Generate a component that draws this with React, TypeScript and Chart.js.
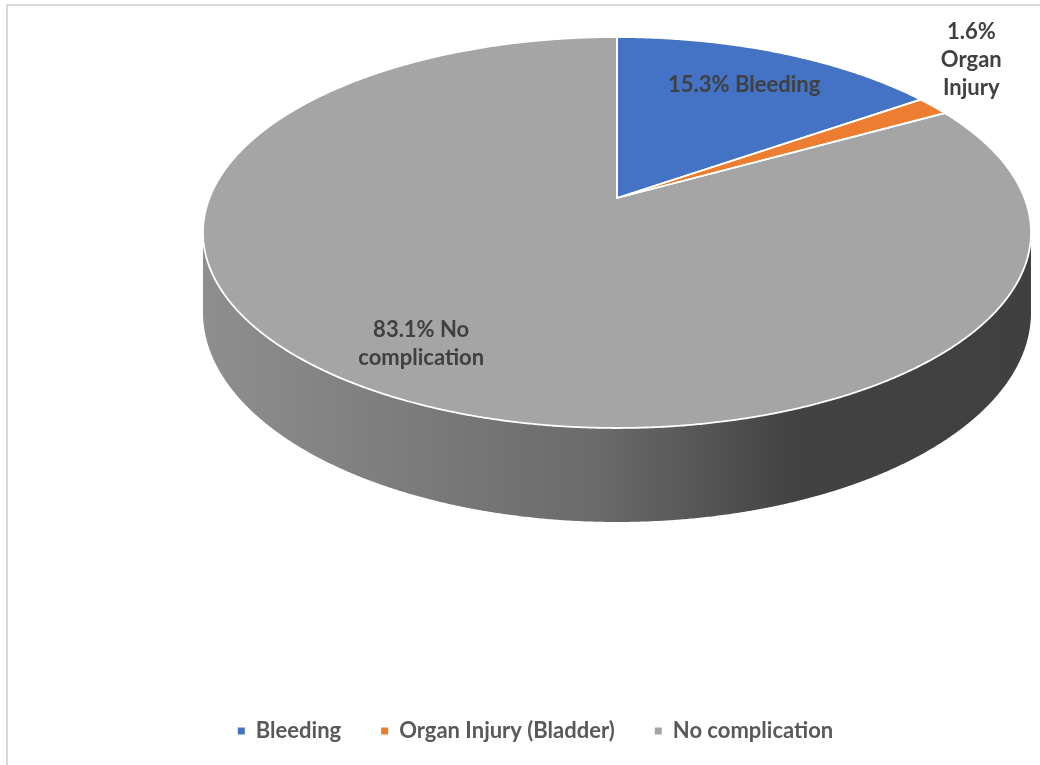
import React, { useEffect, useRef } from "react";
import { Chart, registerables } from "chart.js";

Chart.register(...registerables);

// ---- data ----
const categories = ["Bleeding", "Organ Injury (Bladder)", "No complication"];
const percentValues = [15.3, 1.6, 83.1];
const sliceColors = ["#4472C4", "#ED7D31", "#A5A5A5"];
const dataLabelNames = ["Bleeding", "Organ Injury", "No complication"];

// ---- projected disc geometry (tilted pie seen in perspective) ----
const CENTER_X = 617;
const CENTER_Y = 198;
const RADIUS_X = 407.5;
const RADIUS_Y = 189.4;
const PERSPECTIVE = 0.1765;
const THICKNESS = 77.4;

const FONT_FAMILY = "Lato, 'Open Sans', sans-serif";
const FONT_SIZE = 22;
const LABEL_FONT = `bold ${FONT_SIZE}px ${FONT_FAMILY}`;
const LABEL_LINE = 28;
const LABEL_COLOR = "#404040";

// where each data label sits: fraction along the slice (t), radius fraction (r)
const labelPlacement = [
  { t: 0.5, r: 0.755, wrap: 240, outside: false },
  { t: 0.5, r: 1, wrap: 70, outside: true },
  { t: 0.505, r: 0.8, wrap: 150, outside: false },
];

function project(angle: number, r: number, drop: number): [number, number] {
  const u = r * Math.cos(angle);
  const w = r * Math.sin(angle);
  const s = 1 / (1 - PERSPECTIVE * w);
  return [CENTER_X + RADIUS_X * u * s, CENTER_Y + RADIUS_Y * w * s + drop * s];
}

function shade(hex: string, f: number): string {
  const n = parseInt(hex.slice(1), 16);
  const r = Math.round(((n >> 16) & 255) * f);
  const g = Math.round(((n >> 8) & 255) * f);
  const b = Math.round((n & 255) * f);
  return `rgb(${r},${g},${b})`;
}

function wrapWords(ctx: CanvasRenderingContext2D, text: string, maxWidth: number): string[] {
  const words = text.split(" ");
  const lines: string[] = [];
  let line = "";
  for (const word of words) {
    const candidate = line ? line + " " + word : word;
    if (line && ctx.measureText(candidate).width > maxWidth) {
      lines.push(line);
      line = word;
    } else {
      line = candidate;
    }
  }
  if (line) lines.push(line);
  return lines;
}

const pie3d = {
  id: "pie3d",
  beforeDatasetsDraw(chart: any) {
    const ctx: CanvasRenderingContext2D = chart.ctx;
    const meta = chart.getDatasetMeta(0);
    const dataset = chart.data.datasets[0];
    const colors: string[] = dataset.backgroundColor;
    const arcs = meta.data.map((a: any) => ({ start: a.startAngle, end: a.endAngle }));
    const step = Math.PI / 720;

    const sample = (a0: number, a1: number, r: number, drop: number) => {
      const pts: [number, number][] = [];
      const n = Math.max(2, Math.ceil((a1 - a0) / step));
      for (let i = 0; i <= n; i++) pts.push(project(a0 + ((a1 - a0) * i) / n, r, drop));
      return pts;
    };

    ctx.save();

    // outer wall: only the part facing the viewer
    const sil = Math.asin(PERSPECTIVE);
    const visLo = sil;
    const visHi = Math.PI - sil;
    arcs.forEach((arc: any, i: number) => {
      const lo = Math.max(arc.start, visLo);
      const hi = Math.min(arc.end, visHi);
      if (hi <= lo) return;
      const top = sample(lo, hi, 1, 0);
      const bottom = sample(lo, hi, 1, THICKNESS).reverse();
      ctx.beginPath();
      top.forEach(([x, y], k) => (k ? ctx.lineTo(x, y) : ctx.moveTo(x, y)));
      bottom.forEach(([x, y]) => ctx.lineTo(x, y));
      ctx.closePath();
      const g = ctx.createLinearGradient(CENTER_X - RADIUS_X, 0, CENTER_X + RADIUS_X, 0);
      g.addColorStop(0, shade(colors[i], 0.86));
      g.addColorStop(0.48, shade(colors[i], 0.64));
      g.addColorStop(0.72, shade(colors[i], 0.4));
      g.addColorStop(1, shade(colors[i], 0.39));
      ctx.fillStyle = g;
      ctx.fill();
    });

    // top face slices
    const [ox, oy] = project(0, 0, 0);
    const paths = arcs.map((arc: any) => {
      const p = new Path2D();
      p.moveTo(ox, oy);
      sample(arc.start, arc.end, 1, 0).forEach(([x, y]) => p.lineTo(x, y));
      p.closePath();
      return p;
    });
    paths.forEach((p: Path2D, i: number) => {
      ctx.fillStyle = colors[i];
      ctx.fill(p);
    });
    ctx.strokeStyle = "#ffffff";
    ctx.lineWidth = 1.8;
    ctx.lineJoin = "round";
    paths.forEach((p: Path2D) => ctx.stroke(p));

    // data labels
    ctx.font = LABEL_FONT;
    ctx.fillStyle = LABEL_COLOR;
    ctx.textAlign = "center";
    ctx.textBaseline = "middle";
    arcs.forEach((arc: any, i: number) => {
      const place = labelPlacement[i];
      const value = dataset.data[i];
      const text = `${value.toFixed(1)}% ${dataLabelNames[i]}`;
      const lines = place.outside
        ? [`${value.toFixed(1)}%`, ...wrapWords(ctx, dataLabelNames[i], place.wrap)]
        : wrapWords(ctx, text, place.wrap);
      const ang = arc.start + (arc.end - arc.start) * place.t;
      const [px, py] = project(ang, place.r, 0);
      if (place.outside) {
        const width = Math.max(...lines.map((l) => ctx.measureText(l).width));
        const cx = px + 8 + width / 2;
        const bottom = py - 4;
        lines.forEach((l, k) => {
          ctx.fillText(l, cx, bottom - (lines.length - k - 0.5) * LABEL_LINE);
        });
      } else {
        const first = py - ((lines.length - 1) * LABEL_LINE) / 2;
        lines.forEach((l, k) => ctx.fillText(l, px, first + k * LABEL_LINE));
      }
    });

    ctx.restore();
    return false;
  },
};

export default function App() {
  const canvasRef = useRef<HTMLCanvasElement | null>(null);

  useEffect(() => {
    if (!canvasRef.current) return;
    const chart = new Chart(canvasRef.current, {
      type: "pie",
      data: {
        labels: categories,
        datasets: [
          {
            data: percentValues,
            backgroundColor: sliceColors,
            borderWidth: 0,
          },
        ],
      },
      options: {
        responsive: false,
        animation: false,
        layout: { padding: { left: 31, right: 0, top: 0, bottom: 13 } },
        plugins: {
          tooltip: { enabled: false },
          legend: {
            position: "bottom",
            labels: {
              boxWidth: 7,
              boxHeight: 7,
              padding: 40,
              color: "#595959",
              font: { family: FONT_FAMILY, size: FONT_SIZE, weight: "bold" },
            },
          },
        },
      },
      plugins: [pie3d],
    });
    return () => chart.destroy();
  }, []);

  return (
    <div>
      <div
        style={{
          position: "fixed",
          left: 6,
          top: 4,
          width: 1200,
          height: 900,
          border: "2px solid #d9d9d9",
          pointerEvents: "none",
        }}
      />
      <canvas
        ref={canvasRef}
        width={1040}
        height={765}
        style={{ position: "fixed", left: 0, top: 0, width: 1040, height: 765 }}
      />
    </div>
  );
}
